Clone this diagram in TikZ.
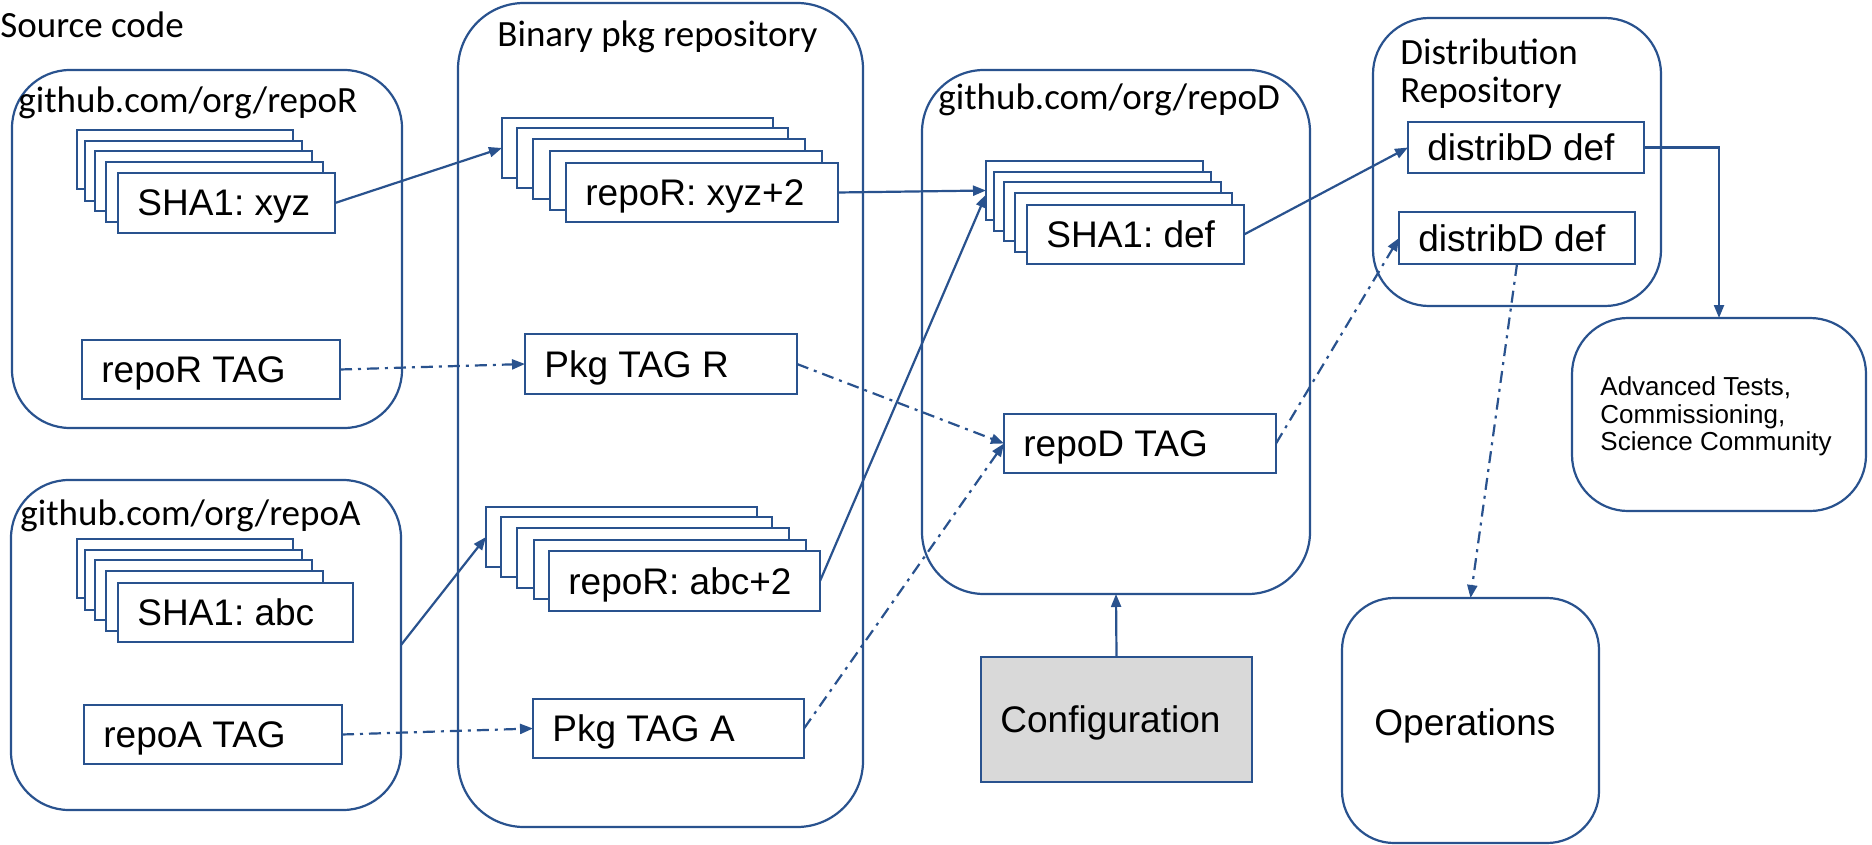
\documentclass[tikz,border=0pt]{standalone}
\usepackage{fontspec}
\setmainfont{Liberation Sans}
\newfontfamily\calfont{Carlito}
\usetikzlibrary{arrows.meta,calc}
\definecolor{edge}{RGB}{41,82,142}
\definecolor{cfgfill}{RGB}{217,217,217}
\frenchspacing

% rectangle node from corner (x1,y1) to (x2,y2), in pixel units
\newcommand\rbox[6][]{%
  \node[box,#1,minimum width={(#5-#3)*0.5pt},minimum height={(#6-#4)*0.5pt}]
    (#2) at ({(#3+#5)/2},{(#4+#6)/2}) {};}
% text inside a box, left aligned and vertically centred
\newcommand\blabel[2]{%
  \node[lbl,anchor=base west] (#1-t) at ($(#1.west)+(19,13)$) {#2};}

\begin{document}
\begin{tikzpicture}[x=0.5pt,y=-0.5pt,
  box/.style={draw=edge,line width=1.1pt,fill=white,inner sep=0pt,outer sep=0pt},
  grp/.style={rounded corners=#1},
  lbl/.style={inner sep=0pt,font=\fontsize{18.5}{22}\selectfont},
  small/.style={inner sep=0pt,font=\fontsize{13}{15}\selectfont},
  glbl/.style={inner sep=0pt,font=\calfont\fontsize{18.5}{22}\selectfont},
  flow/.style={draw=edge,line width=1.1pt,-{Triangle[length=6.5pt,width=5pt]}},
  link/.style={flow,dash pattern=on 6pt off 3pt on 1.5pt off 3pt}]

\useasboundingbox (0,0) rectangle (1872,845);

% ---------- containers ----------
\rbox[grp=29pt]{grpR}{12}{70}{402}{428}
\rbox[grp=29pt]{grpA}{11}{480}{401}{810}
\rbox[grp=33pt]{grpB}{458}{3}{863}{827}
\rbox[grp=31pt]{grpD}{922}{70}{1310}{594}
\rbox[grp=28pt]{grpDist}{1373}{18}{1661}{306}
\rbox[grp=28pt]{adv}{1572}{318}{1866}{511}
\rbox[grp=26pt]{ops}{1342}{598}{1599}{843}

\node[glbl,anchor=base west] (src) at (0,38) {Source code};
\node[glbl,anchor=base west] (grpR-t) at (18,113) {github.com/org/repoR};
\node[glbl,anchor=base west] (grpA-t) at (20,525) {github.com/org/repoA};
\node[glbl,anchor=base west] (grpB-t) at (497,47) {Binary pkg repository};
\node[glbl,anchor=base west] (grpD-t) at (938,110) {github.com/org/repoD};
\node[glbl,anchor=base west] (grpDist-t1) at (1400,65) {Distribution};
\node[glbl,anchor=base west] (grpDist-t2) at (1400,103) {Repository};

\node[small,anchor=base west] (adv-t1) at (1600,395) {Advanced Tests,};
\node[small,anchor=base west] (adv-t2) at (1600,423) {Commissioning,};
\node[small,anchor=base west] (adv-t3) at (1600,450) {Science Community};
\node[lbl,anchor=base west] (ops-t) at (1374,735) {Operations};

% ---------- commit stacks ----------
\rbox{rs1}{77}{130}{293}{189}
\rbox{rs2}{85}{141}{302}{201}
\rbox{rs3}{95}{151}{312}{211}
\rbox{rs4}{106}{162}{323}{222}
\rbox{rs5}{118}{173}{335}{233}
\blabel{rs5}{SHA1: xyz}

\rbox{as1}{77}{539}{293}{598}
\rbox{as2}{85}{550}{302}{610}
\rbox{as3}{95}{560}{312}{620}
\rbox{as4}{106}{571}{323}{631}
\rbox{as5}{118}{583}{353}{642}
\blabel{as5}{SHA1: abc}

\rbox{xs1}{502}{118}{773}{178}
\rbox{xs2}{517}{128}{788}{188}
\rbox{xs3}{533}{139}{805}{199}
\rbox{xs4}{550}{151}{822}{210}
\rbox{xs5}{566}{163}{838}{222}
\blabel{xs5}{repoR: xyz+2}

\rbox{bs1}{486}{507}{757}{567}
\rbox{bs2}{501}{517}{772}{577}
\rbox{bs3}{517}{528}{789}{588}
\rbox{bs4}{534}{540}{806}{599}
\rbox{bs5}{549}{551}{820}{611}
\blabel{bs5}{repoR: abc+2}

\rbox{ds1}{986}{161}{1203}{220}
\rbox{ds2}{994}{172}{1211}{231}
\rbox{ds3}{1004}{182}{1221}{241}
\rbox{ds4}{1015}{193}{1232}{252}
\rbox{ds5}{1027}{205}{1244}{264}
\blabel{ds5}{SHA1: def}

% ---------- tags and items ----------
\rbox{rtag}{82}{340}{340}{399}
\blabel{rtag}{repoR TAG}
\rbox{atag}{84}{705}{342}{764}
\blabel{atag}{repoA TAG}
\rbox{ptr}{525}{334}{797}{394}
\blabel{ptr}{Pkg TAG R}
\rbox{pta}{533}{699}{804}{758}
\blabel{pta}{Pkg TAG A}
\rbox{dtag}{1004}{414}{1276}{473}
\blabel{dtag}{repoD TAG}
\rbox{dd1}{1408}{122}{1644}{173}
\blabel{dd1}{distribD def}
\rbox{dd2}{1399}{212}{1635}{264}
\blabel{dd2}{distribD def}
\rbox[fill=cfgfill]{cfg}{981}{657}{1252}{782}
\blabel{cfg}{Configuration}

% ---------- connectors ----------
\draw[flow] (rs5.east) -- (xs1.west);
\draw[flow] (grpA.east) -- (bs1.west);
\draw[flow] (xs5.east) -- (ds1.west);
\draw[flow] (bs5.east) -- ($(ds1.west)+(0,4)$);
\draw[flow] (ds5.east) -- (dd1.west);
\draw[flow] (dd1.east) -| (adv.north);
\draw[flow] (cfg.north) -- (grpD.south);

\draw[link] (rtag.east) -- (ptr.west);
\draw[link] (atag.east) -- (pta.west);
\draw[link] (ptr.east) -- (dtag.west);
\draw[link] (pta.east) -- (dtag.west);
\draw[link] (dtag.east) -- (dd2.west);
\draw[link] (dd2.south) -- (ops.north);
\end{tikzpicture}
\end{document}
